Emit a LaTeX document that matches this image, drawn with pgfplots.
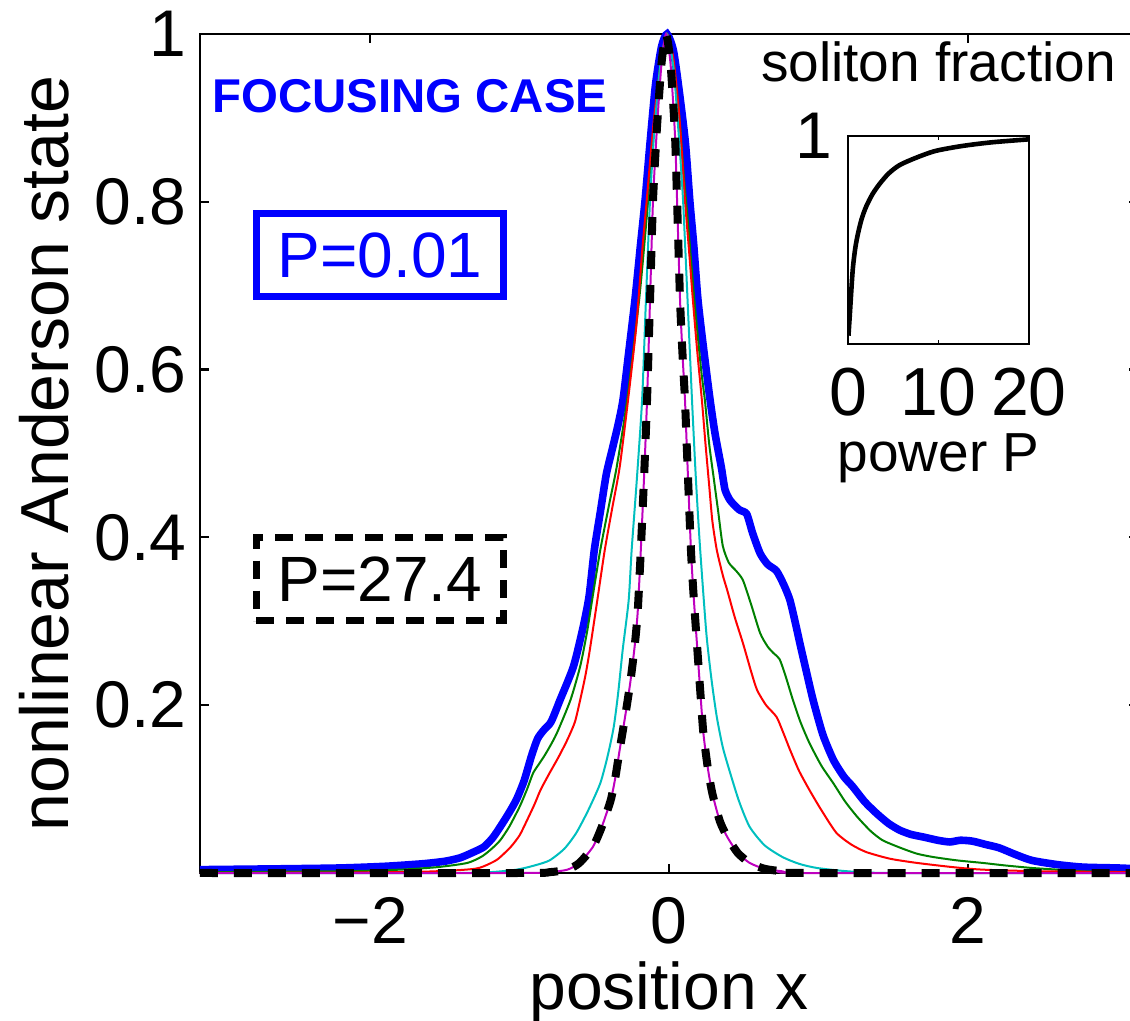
\documentclass[border=0pt]{standalone}
\usepackage{pgfplots}
\pgfplotsset{compat=1.18}
\usepackage{fontspec}
\setmainfont{Liberation Sans}
\definecolor{mgreen}{rgb}{0,0.5,0}
\definecolor{mcyan}{rgb}{0,0.75,0.75}
\definecolor{mmag}{rgb}{0.75,0,0.75}
\begin{document}
\begin{tikzpicture}
\begin{axis}[
  at={(0pt,0pt)}, anchor=south west,
  scale only axis, width=469pt, height=419.5pt,
  xmin=-3.14, xmax=3.14, ymin=0, ymax=1,
  clip=false,
  axis line style={line width=1.3pt},
  tick style={line width=1.1pt, black},
  tick align=inside, major tick length=4.5pt,
  xtick={-2,0,2}, xticklabels={−2,0,2},
  ytick={0.2,0.4,0.6,0.8,1}, yticklabels={0.2,0.4,0.6,0.8,1},
  xticklabel style={font=\fontsize{33}{40}\selectfont, inner sep=0pt, anchor=north, yshift=-12pt},
  yticklabel style={font=\fontsize{33}{40}\selectfont, inner sep=0pt, anchor=east, xshift=-6.5pt},
  xlabel={position x},
  ylabel={nonlinear Anderson state},
  xlabel style={font=\fontsize{33}{40}\selectfont, at={(axis description cs:0.5,0)}, anchor=base, yshift=-68.5pt, inner sep=0pt},
  ylabel style={font=\fontsize{34}{40}\selectfont, at={(axis description cs:-0.1407,0.5)}, anchor=base, inner sep=0pt},
]
% blue P=0.01
\addplot[blue, line width=3.8pt, smooth, tension=0.4] coordinates {
(-3.14,0.004) (-2.6,0.005) (-2.2,0.006) (-1.9,0.008) (-1.65,0.011) (-1.5,0.014) (-1.4,0.018) (-1.32,0.024) (-1.24,0.031) (-1.18,0.042) (-1.13,0.055) (-1.07,0.072) (-1.02,0.088) (-0.97,0.110) (-0.92,0.140) (-0.88,0.160) (-0.84,0.170) (-0.79,0.180) (-0.73,0.206) (-0.64,0.246) (-0.575,0.293) (-0.535,0.330) (-0.50,0.385) (-0.46,0.43) (-0.42,0.475) (-0.38,0.505) (-0.34,0.535) (-0.308,0.564) (-0.27,0.62) (-0.228,0.683) (-0.19,0.75) (-0.16,0.802) (-0.127,0.87) (-0.09,0.94) (-0.05,0.985) (-0.013,1.0) (0.03,0.98) (0.07,0.93) (0.11,0.87) (0.14,0.80) (0.165,0.75) (0.194,0.683) (0.235,0.62) (0.275,0.564) (0.308,0.524) (0.35,0.484) (0.375,0.457) (0.41,0.444) (0.47,0.433) (0.52,0.428) (0.56,0.405) (0.61,0.381) (0.66,0.368) (0.72,0.360) (0.77,0.343) (0.81,0.325) (0.85,0.295) (0.876,0.274) (0.92,0.24) (0.965,0.206) (1.03,0.165) (1.10,0.135) (1.17,0.115) (1.23,0.103) (1.31,0.085) (1.39,0.071) (1.47,0.059) (1.545,0.051) (1.62,0.046) (1.70,0.043) (1.80,0.039) (1.88,0.037) (1.95,0.039) (2.03,0.038) (2.12,0.034) (2.21,0.030) (2.32,0.022) (2.43,0.015) (2.6,0.010) (2.77,0.007) (3.0,0.006) (3.14,0.005)
};
% green
\addplot[mgreen, line width=1pt, smooth, tension=0.4] coordinates {
(-3.14,0.001) (-2.2,0.002) (-1.8,0.004) (-1.55,0.007) (-1.35,0.012) (-1.25,0.020) (-1.18,0.030) (-1.13,0.039) (-1.07,0.055) (-1.0,0.079) (-0.95,0.100) (-0.91,0.119) (-0.87,0.130) (-0.84,0.138) (-0.80,0.150) (-0.75,0.167) (-0.66,0.206) (-0.595,0.246) (-0.55,0.286) (-0.515,0.325) (-0.46,0.385) (-0.40,0.44) (-0.35,0.484) (-0.28,0.564) (-0.20,0.683) (-0.15,0.78) (-0.11,0.87) (-0.06,0.96) (-0.013,1.0) (0.03,0.965) (0.07,0.90) (0.10,0.83) (0.125,0.78) (0.17,0.683) (0.215,0.6) (0.24,0.564) (0.27,0.51) (0.30,0.47) (0.33,0.43) (0.36,0.39) (0.40,0.37) (0.45,0.36) (0.495,0.349) (0.55,0.32) (0.61,0.286) (0.66,0.27) (0.70,0.262) (0.74,0.255) (0.78,0.235) (0.83,0.206) (0.88,0.18) (0.94,0.155) (1.02,0.128) (1.10,0.107) (1.18,0.085) (1.26,0.067) (1.35,0.050) (1.43,0.039) (1.55,0.030) (1.66,0.023) (1.77,0.019) (1.93,0.015) (2.10,0.012) (2.25,0.009) (2.43,0.006) (2.6,0.004) (2.77,0.002) (3.14,0.001)
};
% red
\addplot[red, line width=1pt, smooth, tension=0.4] coordinates {
(-3.14,0.0) (-1.8,0.001) (-1.45,0.003) (-1.30,0.005) (-1.24,0.008) (-1.15,0.016) (-1.06,0.031) (-1.0,0.045) (-0.95,0.063) (-0.90,0.082) (-0.86,0.099) (-0.80,0.119) (-0.74,0.138) (-0.68,0.159) (-0.63,0.18) (-0.595,0.206) (-0.56,0.235) (-0.53,0.266) (-0.48,0.325) (-0.43,0.385) (-0.38,0.435) (-0.33,0.484) (-0.274,0.564) (-0.22,0.65) (-0.18,0.74) (-0.15,0.80) (-0.10,0.90) (-0.05,0.97) (-0.013,1.0) (0.03,0.97) (0.07,0.90) (0.107,0.802) (0.135,0.74) (0.16,0.683) (0.19,0.62) (0.22,0.564) (0.245,0.51) (0.27,0.46) (0.29,0.42) (0.32,0.385) (0.36,0.355) (0.39,0.337) (0.44,0.305) (0.495,0.274) (0.55,0.24) (0.59,0.218) (0.65,0.20) (0.72,0.186) (0.77,0.165) (0.81,0.147) (0.87,0.122) (0.94,0.099) (1.02,0.075) (1.12,0.048) (1.22,0.034) (1.32,0.025) (1.48,0.017) (1.66,0.012) (1.9,0.007) (2.1,0.004) (2.5,0.002) (3.14,0.001)
};
% cyan
\addplot[mcyan, line width=1pt, smooth, tension=0.4] coordinates {
(-3.14,0) (-1.5,0.0) (-1.2,0.001) (-1.02,0.004) (-0.90,0.009) (-0.80,0.015) (-0.70,0.029) (-0.62,0.048) (-0.54,0.075) (-0.46,0.107) (-0.41,0.14) (-0.37,0.174) (-0.34,0.215) (-0.31,0.266) (-0.27,0.325) (-0.25,0.385) (-0.215,0.47) (-0.18,0.564) (-0.155,0.68) (-0.127,0.802) (-0.10,0.88) (-0.06,0.96) (-0.015,1.0) (0.03,0.96) (0.065,0.88) (0.094,0.802) (0.125,0.68) (0.154,0.564) (0.18,0.47) (0.207,0.39) (0.25,0.286) (0.285,0.23) (0.32,0.186) (0.36,0.15) (0.41,0.119) (0.47,0.085) (0.54,0.055) (0.64,0.033) (0.76,0.019) (0.87,0.011) (0.99,0.006) (1.2,0.002) (1.5,0.0) (3.14,0)
};
% magenta
\addplot[mmag, line width=1pt, smooth, tension=0.4] coordinates {
(-3.14,0) (-1.0,0.0) (-0.80,0.001) (-0.68,0.004) (-0.60,0.012) (-0.51,0.031) (-0.45,0.055) (-0.39,0.087) (-0.36,0.113) (-0.33,0.147) (-0.295,0.185) (-0.26,0.226) (-0.23,0.27) (-0.21,0.31) (-0.19,0.38) (-0.165,0.48) (-0.147,0.564) (-0.127,0.683) (-0.107,0.802) (-0.08,0.89) (-0.05,0.965) (-0.02,1.0) (0.01,0.965) (0.04,0.88) (0.054,0.802) (0.074,0.683) (0.09,0.62) (0.107,0.564) (0.12,0.504) (0.147,0.385) (0.165,0.33) (0.19,0.266) (0.21,0.215) (0.23,0.167) (0.26,0.125) (0.29,0.095) (0.34,0.062) (0.39,0.043) (0.46,0.024) (0.54,0.012) (0.64,0.005) (0.76,0.002) (0.9,0.0) (3.14,0)
};
% black dashed P=27.4
\addplot[black, line width=4pt, dash pattern=on 9pt off 8pt, smooth, tension=0.4] coordinates {
(-3.14,0) (-1.0,0.0) (-0.80,0.001) (-0.68,0.004) (-0.60,0.012) (-0.51,0.031) (-0.45,0.055) (-0.39,0.087) (-0.36,0.113) (-0.33,0.147) (-0.295,0.185) (-0.26,0.226) (-0.23,0.27) (-0.21,0.31) (-0.19,0.38) (-0.165,0.48) (-0.147,0.564) (-0.127,0.683) (-0.107,0.802) (-0.08,0.89) (-0.05,0.965) (-0.02,1.0) (0.01,0.965) (0.04,0.88) (0.054,0.802) (0.074,0.683) (0.09,0.62) (0.107,0.564) (0.12,0.504) (0.147,0.385) (0.165,0.33) (0.19,0.266) (0.21,0.215) (0.23,0.167) (0.26,0.125) (0.29,0.095) (0.34,0.062) (0.39,0.043) (0.46,0.024) (0.54,0.012) (0.64,0.005) (0.76,0.002) (0.9,0.0) (3.14,0)
};
\node[anchor=base west, inner sep=0pt, text=blue, font=\fontsize{23.7}{28}\selectfont\bfseries] at (axis cs:-3.06,0.906) {FOCUSING CASE};
\node[draw=blue, line width=3.5pt, line join=miter, text=blue, minimum width=123.5pt, minimum height=41.5pt, inner sep=0pt, font=\fontsize{32}{38}\selectfont] at (axis cs:-1.935,0.7366) {P=0.01};
\node[draw=black, line width=3.5pt, dash pattern=on 9pt off 6pt, text=black, minimum width=123.5pt, minimum height=41.5pt, inner sep=0pt, font=\fontsize{32}{38}\selectfont] at (axis cs:-1.935,0.3504) {P=27.4};
\end{axis}
\begin{axis}[
  at={(324pt,264.5pt)}, anchor=south west,
  scale only axis, width=90.5pt, height=104pt,
  xmin=0, xmax=20, ymin=0, ymax=1,
  axis line style={line width=0.8pt},
  tick style={line width=0.6pt, black},
  tick align=inside, major tick length=2pt,
  xtick={0,10,20}, xticklabels={0,10,20},
  ytick={1}, yticklabels={1},
  xticklabel style={font=\fontsize{34}{40}\selectfont, inner sep=0pt, anchor=north, yshift=-12pt},
  yticklabel style={font=\fontsize{33}{40}\selectfont, inner sep=0pt, anchor=east, xshift=-7.5pt},
  title={soliton fraction},
  title style={font=\fontsize{27.5}{32}\selectfont, at={(axis description cs:0.5,1)}, anchor=base, yshift=21pt, inner sep=0pt},
  xlabel={power P},
  xlabel style={font=\fontsize{27.5}{32}\selectfont, at={(axis description cs:0.5,0)}, anchor=base, yshift=-64pt, inner sep=0pt},
]
\addplot[black, line width=2.3pt, smooth, tension=0.5] coordinates {
(0.05,0.04) (0.2,0.14) (0.4,0.28) (0.55,0.37) (0.8,0.46) (1.1,0.53) (1.5,0.60) (2.0,0.66) (2.7,0.72) (3.5,0.77) (4.5,0.82) (5.7,0.86) (7.5,0.895) (9.4,0.925) (11,0.94) (13.1,0.955) (16,0.97) (20,0.984)
};
\end{axis}
\pgfresetboundingbox
\path[use as bounding box] (-100pt,-74pt) rectangle (465pt,436.5pt);
\end{tikzpicture}
\end{document}
